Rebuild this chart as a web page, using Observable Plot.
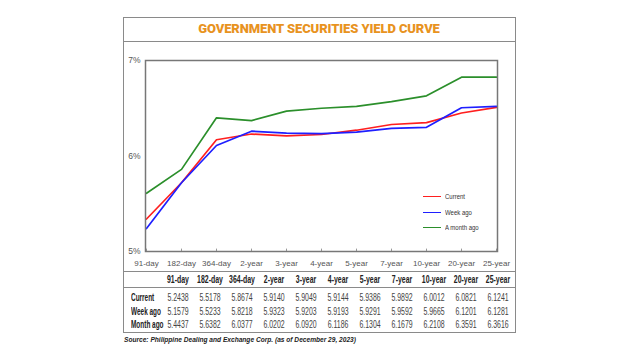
<!DOCTYPE html>
<html><head><meta charset="utf-8">
<script src="https://cdn.jsdelivr.net/npm/d3@7"></script>
<script src="https://cdn.jsdelivr.net/npm/@observablehq/plot@0.6"></script>
<style>
body{margin:0;background:#fff;width:640px;height:360px;position:relative;overflow:hidden;font-family:"Liberation Sans",Arial,sans-serif;}
.abs{position:absolute;}
.cell{position:absolute;white-space:nowrap;transform-origin:center center;}
</style></head>
<body>
<div id="root"></div>
<script>
const title = "GOVERNMENT SECURITIES YIELD CURVE";
const source = "Source: Philippine Dealing and Exchange Corp. (as of December 29, 2023)";
const tenors = ["91-day","182-day","364-day","2-year","3-year","4-year","5-year","7-year","10-year","20-year","25-year"];
const seriesNames = ["Current","Week ago","A month ago"];
const seriesColors = ["#ff1f1f","#1f1fff","#2b8f2b"];
// plotted curve values
const currentLine = [5.34,5.72,6.17,6.23,6.21,6.225,6.27,6.33,6.35,6.45,6.51];
const weekAgoLine = [5.24,5.72,6.11,6.26,6.24,6.235,6.25,6.29,6.30,6.505,6.52];
const monthAgoLine = [5.61,5.86,6.40,6.37,6.47,6.50,6.52,6.57,6.63,6.825,6.825];
const yTicks = [5,6,7];
// table
const rowLabels = ["Current","Week ago","Month ago"];
const currentTable = ["5.2438","5.5178","5.8674","5.9140","5.9049","5.9144","5.9386","5.9892","6.0012","6.0821","6.1241"];
const weekAgoTable = ["5.1579","5.5233","5.8218","5.9323","5.9203","5.9193","5.9291","5.9592","5.9665","6.1201","6.1281"];
const monthAgoTable = ["5.4437","5.6382","6.0377","6.0202","6.0920","6.1186","6.1304","6.1679","6.2108","6.3591","6.3616"];

const root = document.getElementById("root");
function add(html){ root.insertAdjacentHTML("beforeend", html); }

// outer box and title
add(`<div class="abs" style="left:122.5px;top:17px;width:391px;height:314px;border:1.5px solid #8a8a8a;"></div>`);
add(`<div class="abs" style="left:123px;top:41px;width:392px;height:0;border-top:1.5px solid #8a8a8a;"></div>`);
add(`<div class="abs" style="left:123px;top:21px;width:392px;text-align:center;color:#e8931f;font-family:Roboto,sans-serif;font-weight:900;font-size:13px;letter-spacing:-0.1px;">${title}</div>`);

const data = [];
[currentLine, weekAgoLine, monthAgoLine].forEach((arr, s) => arr.forEach((v, i) => data.push({tenor: tenors[i], value: v, series: seriesNames[s]})));

const chart = Plot.plot({
  width: 640, height: 270,
  marginLeft: 145, marginRight: 143, marginTop: 60, marginBottom: 19,
  style: {background: "transparent", fontFamily: "'Liberation Sans', Arial, sans-serif"},
  x: {type: "point", domain: tenors, padding: 0, label: null},
  y: {domain: [5, 7], label: null},
  color: {domain: seriesNames, range: seriesColors},
  marks: [
    Plot.ruleX(tenors, {x: d => d, y1: 5, y2: 5.025, stroke: "#999", strokeWidth: 1}),
    Plot.line(data, {x: "tenor", y: "value", z: "series", stroke: "series", strokeWidth: 1.7}),
    Plot.frame({stroke: "#777", strokeWidth: 1.5}),
    Plot.axisX({tickSize: 0, tickPadding: 9, fontSize: 8, fill: "#555", label: null}),
    Plot.axisY({ticks: yTicks, tickSize: 0, tickPadding: 5, fontSize: 8.5, fill: "#555", tickFormat: d => d + "%", label: null})
  ]
});
chart.style.position = "absolute";
chart.style.left = "0px";
chart.style.top = "0px";
root.appendChild(chart);

// legend
seriesNames.forEach((n, i) => {
  const y = [196.5, 212.5, 228.3][i];
  add(`<div class="abs" style="left:423px;top:${y - 1}px;width:18px;height:0;border-top:1.8px solid ${seriesColors[i]};"></div>`);
  add(`<div class="abs" style="left:445px;top:${y - 5}px;font-size:7.5px;color:#333;transform:scaleX(0.8);transform-origin:left center;">${n}</div>`);
});

// table
add(`<div class="abs" style="left:123px;top:271px;width:392px;height:0;border-top:1.2px solid #8a8a8a;"></div>`);
add(`<div class="abs" style="left:123px;top:286.5px;width:392px;height:0;border-top:1.2px solid #8a8a8a;"></div>`);
const colX = i => 177.5 + i * 32;
function cell(text, cx, cy, extra){
  add(`<div class="cell" style="left:${cx - 30}px;width:60px;top:${cy - 7}px;text-align:center;font-size:11px;line-height:14px;transform:scaleX(0.63);${extra}">${text}</div>`);
}
tenors.forEach((t, i) => cell(t, colX(i), 279, "font-weight:bold;color:#222;"));
rowLabels.forEach((r, j) => {
  const cy = [296.7, 310.5, 324.3][j];
  add(`<div class="cell" style="left:131px;top:${cy - 7}px;font-size:11.5px;line-height:14px;font-weight:bold;color:#222;transform:scaleX(0.56);transform-origin:left center;">${r}</div>`);
  [currentTable, weekAgoTable, monthAgoTable][j].forEach((v, i) => cell(v, colX(i), cy, "color:#444;"));
});

add(`<div class="abs" style="left:124px;top:336px;font-size:6.6px;font-weight:bold;font-style:italic;color:#222;">${source}</div>`);
</script>
</body></html>
